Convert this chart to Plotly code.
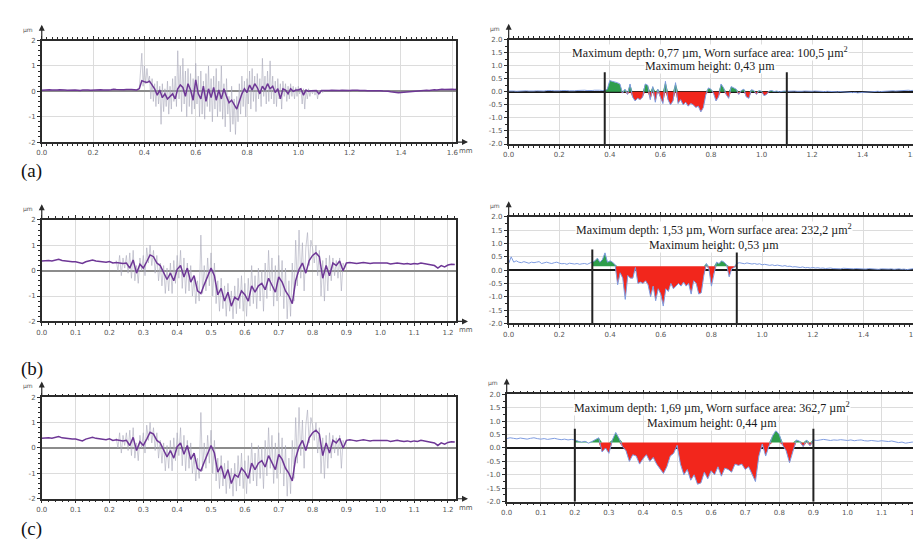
import numpy as np
import plotly.graph_objects as go

W, H = 921, 544

# ---------------- data (µm), sampled every 0.01 mm from 0 ----------------
A_FILTERED = [
    0.04, 0.05, 0.05, 0.06, 0.05, 0.04, 0.05, 0.06, 0.07, 0.05,
    0.04, 0.05, 0.06, 0.05, 0.04, 0.03, 0.05, 0.06, 0.05, 0.04,
    0.05, 0.06, 0.07, 0.06, 0.05, 0.04, 0.05, 0.06, 0.08, 0.07,
    0.06, 0.05, 0.06, 0.07, 0.08, 0.07, 0.06, 0.05,
    0.1, 0.42, 0.38, 0.35, 0.4, 0.25, 0.1, -0.15, 0.05, -0.25, -0.1, -0.3,
    -0.2, -0.1, -0.3, 0.1, 0.25, 0.15, -0.2, 0.3, 0.05, -0.35,
    0.45, -0.1, -0.3, 0.2, -0.4, 0.1, -0.25, 0.15, -0.35, 0.05,
    -0.3, 0.1, -0.2, -0.45, -0.35, -0.55, -0.7, -0.4, -0.1, 0.1,
    -0.05, 0.25, 0.05, 0.3, 0.15, -0.1, 0.2, 0.05, 0.3, 0.1,
    0.2, -0.05, 0.1, -0.3, 0.1, 0.05, -0.1, 0.1, 0.0, 0.05,
    0.05, 0.1, -0.15, 0.05, 0.0, 0.02, 0.04, 0.03, -0.1, 0.03,
    0.03, 0.02, 0.03, 0.04, 0.03, 0.02, 0.03, 0.04, 0.03, 0.02,
    0.03, 0.04, 0.05, 0.04, 0.03, 0.04, 0.03, 0.02, 0.03, 0.02,
    0.02, 0.03, 0.02, 0.01, 0.02, 0.0, -0.02, -0.04, -0.05, -0.06,
    -0.05, -0.04, -0.03, -0.02, 0.0, 0.01, 0.02, 0.03, 0.02, 0.03,
    0.04, 0.03, 0.05, 0.06, 0.05, 0.07, 0.08, 0.07, 0.08, 0.09,
    0.08, 0.07, 0.08,
]

# raw profile (a), every 0.005 mm starting at 0.38 mm
A_RAW_START = 0.38
A_RAW = [
    0.1, 0.9, 1.5, 0.2, 1.0, 0.3, 0.9, 0.4, 0.6, -0.3,
    0.5, -0.4, 0.3, -0.6, 0.4, -0.5, 0.2, -1.3, 0.3, -0.8,
    0.1, -0.6, 0.4, -0.9, 0.2, -0.7, 0.5, -0.4, 0.6, -0.6,
    1.6, -0.3, 1.0, -0.8, 1.3, -0.5, 0.8, -1.0, 0.9, -0.6,
    0.7, -0.9, 0.5, -0.7, 1.1, -0.5, 0.6, -1.0, 0.8, -0.9,
    0.4, -1.1, 0.7, -0.6, 1.0, -0.8, 0.5, -1.2, 0.6, -0.7,
    0.9, -1.0, 0.4, -0.8, 1.0, -1.1, 0.3, -1.4, 0.5, -0.9,
    -0.2, -1.6, 0.2, -1.3, -0.3, -1.7, -0.2, -1.2, 0.3, -0.9,
    0.6, -0.6, 0.4, -1.0, 0.5, -0.5, 0.8, -0.7, 0.9, -0.4,
    0.6, -0.8, 0.7, -0.3, 0.5, -0.6, 1.3, -0.2, 0.6, -0.5,
    0.8, -0.4, 1.2, -0.3, 0.6, -0.5, 0.4, -0.6, 0.5, -0.3,
    0.3, -0.7, 0.4, -0.2, 0.3, -0.4, 0.2, -0.3, 0.3, -0.2,
    0.2, -0.3, 0.15, -0.2, 0.2, -0.1, 0.1, -0.5, 0.1, -0.7,
    0.05, -0.3, 0.1, -0.2, 0.05, -0.1, 0.05, -0.15, 0.05, -0.3,
    0.05, -0.1, 0.05, -0.05, 0.03,
]

BC_FILTERED = [
    0.38, 0.4, 0.4, 0.38, 0.42, 0.45, 0.4, 0.38, 0.36, 0.35,
    0.35, 0.32, 0.28, 0.35, 0.4, 0.42, 0.38, 0.36, 0.35, 0.33,
    0.36, 0.3, 0.32, 0.3, 0.28, 0.3, 0.1, 0.42, -0.1, 0.25,
    0.1, 0.35, 0.62, 0.55, 0.3, 0.2, -0.1, -0.35, -0.1, -0.4,
    0.05, 0.2, -0.25, 0.1, -0.45, -0.2, -0.8, -0.9, -0.55, -0.25,
    0.1, -0.2, -0.95, -0.7, -1.2, -0.85, -1.4, -1.05, -1.15, -0.8,
    -0.95, -1.2, -0.6, -0.85, -0.6, -0.5, -0.75, -0.3, -0.6, -0.85,
    -0.25, -0.45, -0.8, -1.0, -1.3, -0.4, 0.05, 0.3, -0.1, 0.4,
    0.6, 0.7, 0.55, -0.3, 0.2, -0.2, 0.3, 0.2, 0.38, 0.0,
    0.3, 0.32, 0.3, 0.28, 0.3, 0.32, 0.3, 0.28, 0.3, 0.3,
    0.3, 0.28, 0.3, 0.26, 0.28, 0.3, 0.28, 0.26, 0.28, 0.25,
    0.28, 0.26, 0.3, 0.28, 0.25, 0.22, 0.2, 0.1, 0.2, 0.15,
    0.22, 0.25, 0.24,
]

BC_RAW_START = 0.22
BC_RAW = [
    0.4, 0.0, 0.6, -0.2, 0.5, 0.1, 0.6, -0.1, 0.7, -0.3,
    0.8, -0.4, 0.2, -0.5, 0.5, 0.0, 0.6, -0.2, 0.9, 0.3,
    1.0, 0.2, 0.8, -0.1, 0.6, -0.4, 0.3, -0.6, 0.2, -0.9,
    0.1, -0.8, 0.3, -0.9, 0.4, -0.5, 0.6, -0.3, 0.8, -0.7,
    0.5, -0.9, 0.3, -0.8, 0.2, -1.0, -0.3, -1.3, -0.4, -1.2,
    1.4, -0.9, 0.2, -0.8, 0.5, -0.6, 0.7, -1.0, 0.3, -1.3,
    -0.4, -1.6, -0.3, -1.5, -0.6, -1.8, -0.5, -1.6, -0.8, -1.9,
    -0.6, -1.7, -0.3, -1.5, -0.2, -1.6, -0.5, -1.8, -0.3, -1.4,
    0.2, -1.3, -0.2, -1.5, 0.1, -1.2, 0.0, -1.6, 0.3, -1.1,
    0.8, -0.8, 0.5, -1.4, 0.2, -1.2, 0.6, -1.0, 0.4, -1.5,
    0.1, -1.9, -0.4, -1.8, 0.3, -1.2, 1.2, -0.6, 1.6, -0.3,
    1.1, -0.8, 0.9, 1.5, 0.2, 1.2, 0.9, 0.3, 1.0, -0.2,
    0.8, -1.0, 0.4, -1.2, 0.5, -0.8, 0.6, -0.4, 0.5, -0.2,
    0.4, -0.3, 0.5, -0.8, 0.3, 0.1, 0.3,
]

WEAR_A = [
    0.03, 0.04, 0.03, 0.02, 0.03, 0.04, 0.05, 0.04, 0.03, 0.02,
    0.03, 0.04, 0.03, 0.02, 0.03, 0.05, 0.06, 0.05, 0.04, 0.03,
    0.04, 0.05, 0.06, 0.05, 0.04, 0.03, 0.04, 0.05, 0.06, 0.07,
    0.06, 0.05, 0.04, 0.05, 0.06, 0.07, 0.06, 0.05,
    0.05, 0.1, 0.43, 0.4, 0.38, 0.35, 0.3, -0.05, 0.1, -0.1, 0.3, -0.2,
    -0.35, -0.25, -0.3, -0.2, 0.3, 0.25, -0.3, 0.2, -0.4, 0.1,
    -0.2, -0.45, 0.4, -0.3, -0.5, -0.35, 0.35, -0.45, -0.3, -0.5,
    -0.4, -0.55, -0.45, -0.5, -0.6, -0.55, -0.77, -0.6, -0.1, 0.15,
    0.1, -0.05, -0.35, -0.2, 0.3, 0.15, -0.1, -0.25, 0.2, 0.15,
    0.1, -0.1, 0.05, 0.1, -0.2, -0.25, 0.08, 0.05, -0.1, 0.05,
    0.02, -0.15, -0.1, 0.03, 0.05, 0.01, 0.03, 0.0, 0.02, 0.03,
    0.02, 0.03, 0.02, 0.03, 0.02, 0.01, 0.02, 0.03, 0.02, 0.01,
    0.02, 0.03, 0.02, 0.03, 0.02, 0.01, 0.02, 0.01, 0.02, 0.01,
    0.0, 0.01, 0.0, -0.01, 0.0, -0.02, -0.03, -0.02, -0.04, -0.03,
    -0.02, -0.01, 0.0, 0.01, 0.0, 0.01, 0.02, 0.01, 0.02, 0.03,
    0.02, 0.03, 0.04, 0.03, 0.04, 0.05, 0.04, 0.05, 0.06, 0.05,
    0.06, 0.05, 0.06,
]

WEAR_B = [
    0.25, 0.5, 0.3, 0.35, 0.3, 0.28, 0.32, 0.3, 0.26, 0.3,
    0.28, 0.3, 0.32, 0.25, 0.28, 0.3, 0.27, 0.25, 0.28, 0.3,
    0.26, 0.24, 0.25, 0.22, 0.26, 0.25, 0.23, 0.25, 0.22, 0.24,
    0.25, 0.22, 0.26, 0.3, 0.35, 0.45, 0.3, 0.4, 0.65, 0.3,
    0.35, 0.3, 0.2, -0.55, -0.1, -0.3, -1.1, -0.2, -0.3, -0.3,
    0.1, -0.5, -0.45, -0.5, -0.4, -0.55, -1.0, -0.6, -1.15, -0.7,
    -0.9, -1.35, -0.7, -0.8, -0.5, -0.7, -0.6, -0.5, -0.6, -0.45,
    -0.6, -0.5, -0.9, -0.4, -0.5, -0.9, -0.85, -0.2, 0.25, 0.05,
    -0.6, -0.1, 0.3, 0.25, 0.35, 0.3, 0.2, -0.25, 0.05, 0.1,
    0.25, 0.28, 0.26, 0.24, 0.27, 0.25, 0.23, 0.25, 0.22, 0.24,
    0.2, 0.22, 0.2, 0.18, 0.2, 0.17, 0.19, 0.16, 0.15, 0.17,
    0.14, 0.15, 0.12, 0.13, 0.11, 0.1, 0.12, 0.09, 0.1, 0.08,
    0.1, 0.08, 0.09, 0.07, 0.08, 0.06, 0.07, 0.08, 0.06, 0.05,
    0.06, 0.05, 0.07, 0.06, 0.05, 0.04, 0.05, 0.06, 0.05, 0.04,
    0.05, 0.04, 0.06, 0.05, 0.04, 0.05, 0.03, 0.05, 0.04, 0.03,
    0.04, 0.05, 0.03, 0.04, 0.05, 0.03, 0.04, 0.02, 0.04, 0.05,
    0.06, 0.05, 0.04,
]

WEAR_C = [
    0.35, 0.38, 0.36, 0.34, 0.37, 0.35, 0.33, 0.36, 0.38, 0.35,
    0.33, 0.35, 0.32, 0.34, 0.36, 0.33, 0.31, 0.33, 0.3, 0.32,
    0.3, 0.25, 0.22, 0.25, 0.18, 0.24, 0.3, 0.38, -0.15, 0.0,
    -0.2, 0.3, 0.58, 0.35, 0.05, -0.1, -0.5, -0.25, -0.3, -0.6,
    -0.4, -0.25, -0.5, -0.35, -0.6, -0.8, -0.95, -0.7, -0.3, -0.2,
    0.1, -0.6, -1.0, -0.8, -1.2, -1.0, -1.35, -1.3, -0.9, -1.15,
    -0.85, -1.0, -0.7, -1.05, -0.75, -0.8, -0.9, -0.6, -0.65, -0.6,
    -0.8, -0.7, -1.0, -1.25, -0.3, 0.15, -0.3, 0.1, 0.45, 0.65,
    0.5, 0.1, -0.1, -0.55, -0.1, 0.3, 0.25, 0.05, 0.3, 0.08,
    0.3, 0.28, 0.3, 0.32, 0.3, 0.28, 0.3, 0.29, 0.31, 0.3,
    0.28, 0.3, 0.27, 0.29, 0.3, 0.27, 0.26, 0.28, 0.26, 0.25,
    0.27, 0.25, 0.24, 0.26, 0.22, 0.2, 0.22, 0.18, 0.2, 0.22,
    0.19, 0.18, 0.2,
]

SAMPLE_STEP = 0.01
RAW_STEP = 0.005

# worn zone limits (mm), reference level (µm) and marker top (µm)
ZONE_A = [0.38, 1.10]
ZONE_B = [0.33, 0.90]
ZONE_C = [0.20, 0.90]
REF_LEVELS = [0.0, 0.15, 0.2]
MARKER_TOP = [0.75, 0.78, 0.72]

TEXT_DEPTH = [
    "Maximum depth: 0,77 µm, Worn surface area: 100,5 µm<sup>2</sup>",
    "Maximum depth: 1,53 µm, Worn surface area: 232,2 µm<sup>2</sup>",
    "Maximum depth: 1,69 µm, Worn surface area: 362,7 µm<sup>2</sup>",
]
TEXT_HEIGHT = [
    "Maximum height: 0,43 µm",
    "Maximum height: 0,53 µm",
    "Maximum height: 0,44 µm",
]
PANEL_LABELS = ["(a)", "(b)", "(c)"]

# ---------------- layout boxes (pixels) ----------------
# name, x0, x1, y0, y1, xmax, x dtick, kind
PANELS = [
    ("La", 28, 446, 29, 132, 1.615, 0.2, "L"),
    ("Ra", 499, 914, 28, 134, 1.627, 0.2, "R"),
    ("Lb", 28, 446, 211, 314, 1.224, 0.1, "L"),
    ("Rb", 499, 915, 208, 316, 1.627, 0.2, "R"),
    ("Lc", 28, 446, 391, 494, 1.224, 0.1, "L"),
    ("Rc", 497, 914, 388, 497, 1.213, 0.1, "R"),
]
LABEL_POS = [(18, 161), (18, 362), (18, 525)]
TEXT_Y = [(41, 55), (221, 236), (401, 417)]
TEXT_X = [702, 706, 704]

PURPLE = "#6e3796"
RAW_GRAY = "rgba(170,170,186,0.6)"
BLUE = "#7f9ce0"
RED = "#f2261c"
GREEN = "#2e9e4c"
GRID = "#dcdcdc"
AX = "#2b2b2b"

fig = go.Figure()


def ax_ids(i):
    n = "" if i == 0 else str(i + 1)
    return "x" + n, "y" + n, "xaxis" + n, "yaxis" + n


def sample_x(vals, start, step):
    return np.round(start + step * np.arange(len(vals)), 4)


layout_axes = {}
annotations = []
small = dict(family="DejaVu Sans", size=7, color="#555")

for i, (name, x0, x1, y0, y1, xmax, dt, kind) in enumerate(PANELS):
    xr, yr, xk, yk = ax_ids(i)
    row = i // 2
    xvals = [round(v * dt, 3) for v in range(int(round(xmax / dt)) + 1) if v * dt <= xmax + 1e-9]
    layout_axes[xk] = dict(
        domain=[x0 / W, x1 / W], range=[0, xmax], anchor=yr,
        showline=True, linecolor=AX, linewidth=1.5, mirror="ticks",
        ticks="outside", ticklen=3, tickcolor=AX, tickwidth=1,
        tickvals=xvals, ticktext=[f"{v:.1f}" for v in xvals],
        tickfont=small, showgrid=True, gridcolor=GRID, gridwidth=1,
        minor=dict(dtick=0.02, tick0=0, ticks="outside", ticklen=2, tickcolor=AX, showgrid=False),
        zeroline=False, fixedrange=True,
    )
    if kind == "L":
        yvals = [-2, -1, 0, 1, 2]
        ytext = [str(v) for v in yvals]
        zc = "#8c8c8c"
    else:
        yvals = [-2.0, -1.5, -1.0, -0.5, 0.0, 0.5, 1.0, 1.5, 2.0]
        ytext = [f"{v:.1f}" for v in yvals]
        zc = "#1a1a1a"
    layout_axes[yk] = dict(
        domain=[1 - y1 / H, 1 - y0 / H], range=[-2, 2], anchor=xr,
        showline=True, linecolor=AX, linewidth=1.5, mirror=True,
        ticks="outside", ticklen=3, tickcolor=AX,
        tickvals=yvals, ticktext=ytext, tickfont=small,
        showgrid=True, gridcolor=GRID, gridwidth=1,
        minor=dict(dtick=0.25 if kind == "R" else 0.2, ticks="outside", ticklen=2, tickcolor=AX, showgrid=False),
        zeroline=True, zerolinecolor=zc, zerolinewidth=2, fixedrange=True,
    )

    # unit labels and axis arrows
    annotations.append(dict(xref="paper", yref="paper", x=(x0 - 14) / W, y=1 - (y0 - 11) / H,
                            xanchor="center", yanchor="middle",
                            text="µm", showarrow=False, font=dict(family="DejaVu Sans", size=6, color="#555")))
    annotations.append(dict(xref="paper", yref="paper", x=x0 / W, y=1 - (y0 - 16) / H,
                            ax=0, ay=16, text="", showarrow=True,
                            arrowhead=2, arrowsize=1, arrowwidth=1.2, arrowcolor=AX))
    if kind == "L":
        annotations.append(dict(xref="paper", yref="paper", x=(x1 + 12) / W, y=1 - y1 / H,
                                ax=-12, ay=0, text="", showarrow=True,
                                arrowhead=2, arrowsize=1, arrowwidth=1.2, arrowcolor=AX))
        annotations.append(dict(xref="paper", yref="paper", x=(x1 + 1) / W, y=1 - (y1 + 9) / H,
                                xanchor="left", yanchor="middle",
                                text="mm", showarrow=False, font=small))
        lx, ly = LABEL_POS[row]
        annotations.append(dict(xref="paper", yref="paper", x=lx / W, y=1 - ly / H, text=PANEL_LABELS[row],
                                xanchor="center", yanchor="middle", showarrow=False, borderpad=0,
                                font=dict(family="Liberation Serif", size=19, color="#111")))

        filt = A_FILTERED if row == 0 else BC_FILTERED
        raw = A_RAW if row == 0 else BC_RAW
        raw_start = A_RAW_START if row == 0 else BC_RAW_START
        fx = sample_x(filt, 0.0, SAMPLE_STEP)
        rx = sample_x(raw, raw_start, RAW_STEP)
        fig.add_trace(go.Scatter(x=rx, y=raw, mode="lines", xaxis=xr, yaxis=yr,
                                 line=dict(color=RAW_GRAY, width=1), hoverinfo="skip", showlegend=False))
        fig.add_trace(go.Scatter(x=fx, y=filt, mode="lines", xaxis=xr, yaxis=yr,
                                 line=dict(color=PURPLE, width=1.5), hoverinfo="skip", showlegend=False))
    else:
        prof = [WEAR_A, WEAR_B, WEAR_C][row]
        zone = [ZONE_A, ZONE_B, ZONE_C][row]
        ref = REF_LEVELS[row]
        px = sample_x(prof, 0.0, SAMPLE_STEP)
        py = np.array(prof)
        m = (px >= zone[0] - 1e-9) & (px <= zone[1] + 1e-9)
        zx, zy = px[m], py[m]
        base = np.full(len(zx), ref)
        for fill_y, col in ((np.minimum(zy, ref), RED), (np.maximum(zy, ref), GREEN)):
            fig.add_trace(go.Scatter(x=zx, y=base, mode="lines", xaxis=xr, yaxis=yr,
                                     line=dict(width=0, color=col), hoverinfo="skip", showlegend=False))
            fig.add_trace(go.Scatter(x=zx, y=fill_y, mode="lines", xaxis=xr, yaxis=yr, fill="tonexty",
                                     fillcolor=col, line=dict(width=0, color=col),
                                     hoverinfo="skip", showlegend=False))
        fig.add_trace(go.Scatter(x=px, y=py, mode="lines", xaxis=xr, yaxis=yr,
                                 line=dict(color=BLUE, width=1), hoverinfo="skip", showlegend=False))
        for zxv in zone:
            fig.add_trace(go.Scatter(x=[zxv, zxv], y=[MARKER_TOP[row], -2], mode="lines", xaxis=xr, yaxis=yr,
                                     line=dict(color="#222", width=2), hoverinfo="skip", showlegend=False))
        ty1, ty2 = TEXT_Y[row]
        for txt, ty in ((TEXT_DEPTH[row], ty1), (TEXT_HEIGHT[row], ty2)):
            annotations.append(dict(xref="paper", yref="paper", x=TEXT_X[row] / W, y=1 - ty / H, text=txt,
                                    xanchor="center", yanchor="middle",
                                    showarrow=False, bgcolor="white", borderpad=0,
                                    font=dict(family="Liberation Serif", size=12, color="#1a1a1a")))

fig.update_layout(
    width=W, height=H, margin=dict(l=0, r=0, t=0, b=0),
    paper_bgcolor="white", plot_bgcolor="white",
    showlegend=False, annotations=annotations, **layout_axes,
)

fig.write_html("out.html")
